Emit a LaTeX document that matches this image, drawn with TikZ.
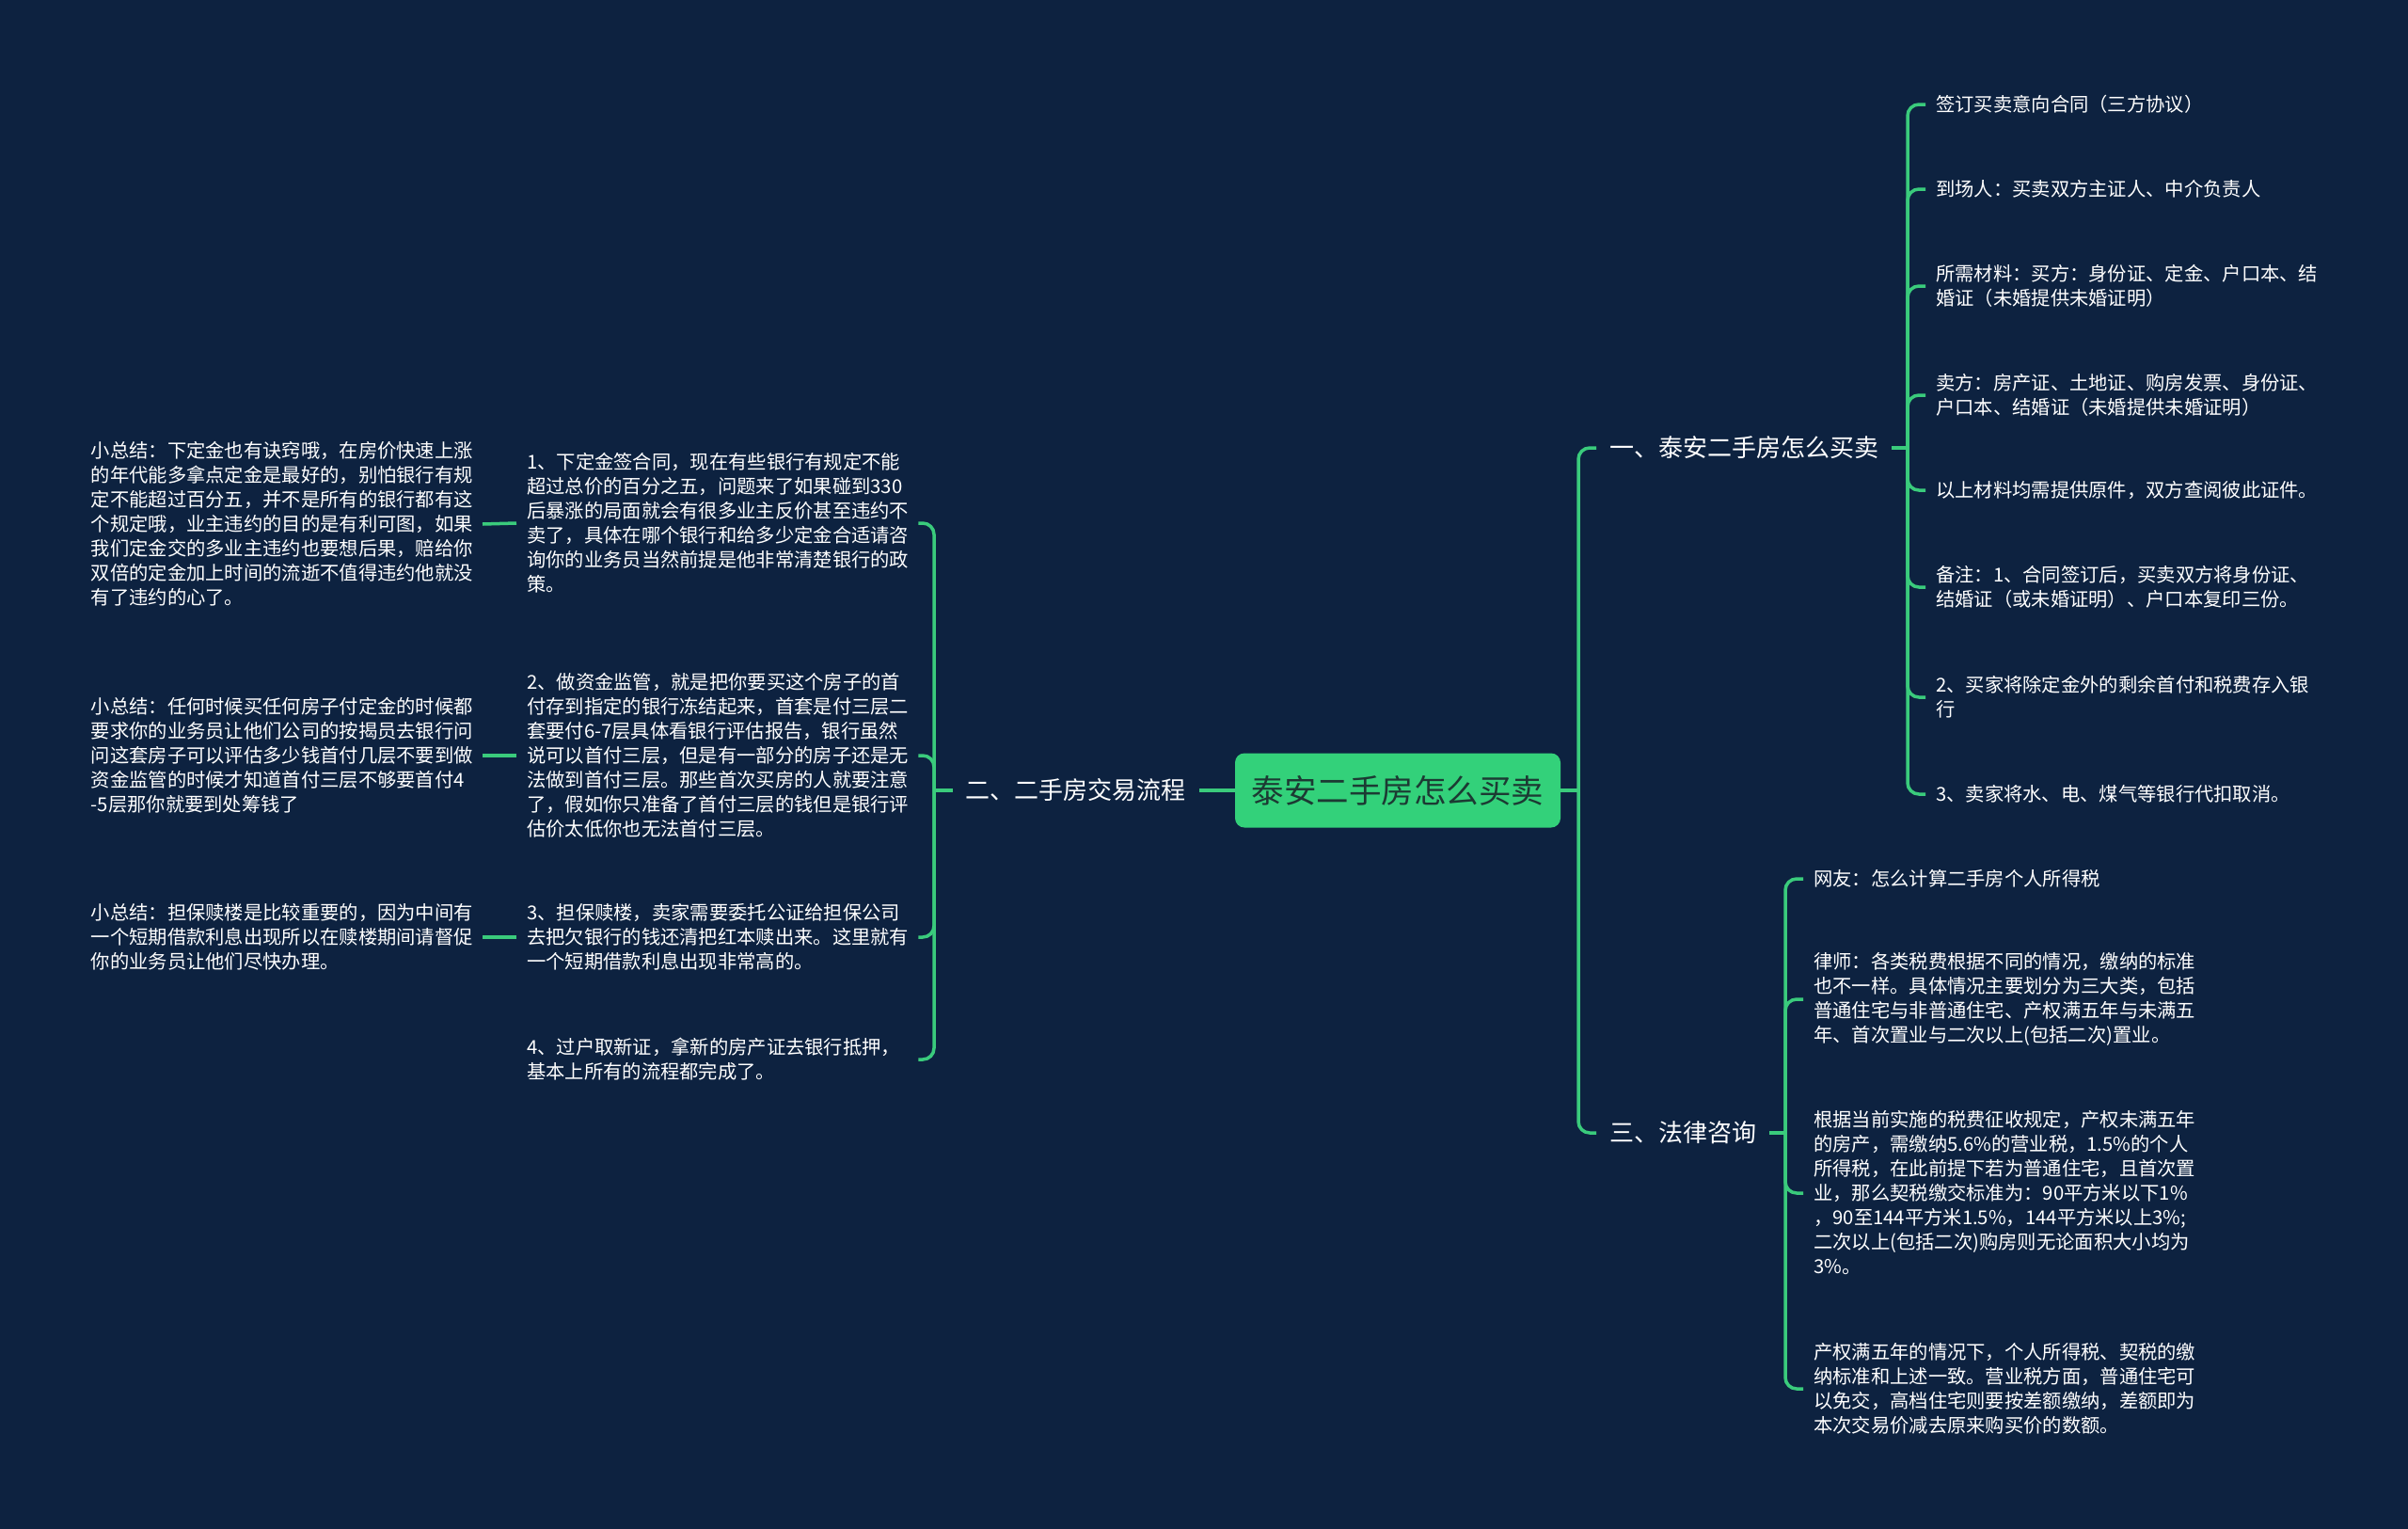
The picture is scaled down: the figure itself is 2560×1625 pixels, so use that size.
\documentclass[tikz,border=0pt]{standalone}
\usepackage{fontspec}
\setmainfont{Noto Sans CJK SC}
\definecolor{bg}{HTML}{0D2240}
\definecolor{ln}{HTML}{3ACB7C}
\definecolor{rootfill}{HTML}{33D17A}
\definecolor{roottext}{HTML}{1C3A33}
\begin{document}
\begin{tikzpicture}[x=1pt,y=-1pt,
  conn/.style={draw=ln,line width=3.5pt,rounded corners=12pt},
  leaf/.style={text=white,font=\fontsize{20.3}{26}\selectfont,text width=405pt,align=left,inner xsep=11pt,inner ysep=2pt},
  lvl/.style={text=white,font=\fontsize{26}{32}\selectfont,inner xsep=14pt,inner ysep=4pt},
  rootbox/.style={fill=rootfill,rounded corners=10pt,minimum width=346pt,minimum height=79pt,text=roottext,font=\fontsize{34.5}{40}\selectfont}]
\fill[bg] (0,0) rectangle (2560,1625);
\useasboundingbox (0,0) rectangle (2560,1625);

% root
\node[rootbox] (root) at (1486,840) {泰安二手房怎么买卖};

% level 1
\node[lvl,anchor=west] (b1) at (1697,476) {一、泰安二手房怎么买卖};
\node[lvl,anchor=east] (b2) at (1275,840) {二、二手房交易流程};
\node[lvl,anchor=west] (b3) at (1697,1204) {三、法律咨询};

% branch 1 children
\node[leaf,anchor=west] (a1) at (2047,111) {签订买卖意向合同（三方协议）};
\node[leaf,anchor=west] (a2) at (2047,201) {到场人：买卖双方主证人、中介负责人};
\node[leaf,anchor=west] (a3) at (2047,304) {所需材料：买方：身份证、定金、户口本、结\\婚证（未婚提供未婚证明）};
\node[leaf,anchor=west] (a4) at (2047,420) {卖方：房产证、土地证、购房发票、身份证、\\户口本、结婚证（未婚提供未婚证明）};
\node[leaf,anchor=west] (a5) at (2047,521) {以上材料均需提供原件，双方查阅彼此证件。};
\node[leaf,anchor=west] (a6) at (2047,624) {备注：1、合同签订后，买卖双方将身份证、\\结婚证（或未婚证明）、户口本复印三份。};
\node[leaf,anchor=west] (a7) at (2047,741) {2、买家将除定金外的剩余首付和税费存入银\\行};
\node[leaf,anchor=west] (a8) at (2047,844) {3、卖家将水、电、煤气等银行代扣取消。};

% branch 2 children
\node[leaf,anchor=west] (c1) at (549,556) {1、下定金签合同，现在有些银行有规定不能\\超过总价的百分之五，问题来了如果碰到330\\后暴涨的局面就会有很多业主反价甚至违约不\\卖了，具体在哪个银行和给多少定金合适请咨\\询你的业务员当然前提是他非常清楚银行的政\\策。};
\node[leaf,anchor=west] (c2) at (549,803) {2、做资金监管，就是把你要买这个房子的首\\付存到指定的银行冻结起来，首套是付三层二\\套要付6-7层具体看银行评估报告，银行虽然\\说可以首付三层，但是有一部分的房子还是无\\法做到首付三层。那些首次买房的人就要注意\\了，假如你只准备了首付三层的钱但是银行评\\估价太低你也无法首付三层。};
\node[leaf,anchor=west] (c3) at (549,996) {3、担保赎楼，卖家需要委托公证给担保公司\\去把欠银行的钱还清把红本赎出来。这里就有\\一个短期借款利息出现非常高的。};
\node[leaf,anchor=west] (c4) at (549,1126) {4、过户取新证，拿新的房产证去银行抵押，\\基本上所有的流程都完成了。};

% summaries
\node[leaf,anchor=east] (s1) at (513,557) {小总结：下定金也有诀窍哦，在房价快速上涨\\的年代能多拿点定金是最好的，别怕银行有规\\定不能超过百分五，并不是所有的银行都有这\\个规定哦，业主违约的目的是有利可图，如果\\我们定金交的多业主违约也要想后果，赔给你\\双倍的定金加上时间的流逝不值得违约他就没\\有了违约的心了。};
\node[leaf,anchor=east] (s2) at (513,803) {小总结：任何时候买任何房子付定金的时候都\\要求你的业务员让他们公司的按揭员去银行问\\问这套房子可以评估多少钱首付几层不要到做\\资金监管的时候才知道首付三层不够要首付4\\-5层那你就要到处筹钱了};
\node[leaf,anchor=east] (s3) at (513,996) {小总结：担保赎楼是比较重要的，因为中间有\\一个短期借款利息出现所以在赎楼期间请督促\\你的业务员让他们尽快办理。};

% branch 3 children
\node[leaf,anchor=west] (d1) at (1917,934) {网友：怎么计算二手房个人所得税};
\node[leaf,anchor=west] (d2) at (1917,1062) {律师：各类税费根据不同的情况，缴纳的标准\\也不一样。具体情况主要划分为三大类，包括\\普通住宅与非普通住宅、产权满五年与未满五\\年、首次置业与二次以上(包括二次)置业。};
\node[leaf,anchor=west] (d3) at (1917,1268) {根据当前实施的税费征收规定，产权未满五年\\的房产，需缴纳5.6\%的营业税，1.5\%的个人\\所得税，在此前提下若为普通住宅，且首次置\\业，那么契税缴交标准为：90平方米以下1\%\\，90至144平方米1.5\%，144平方米以上3\%;\\二次以上(包括二次)购房则无论面积大小均为\\3\%。};
\node[leaf,anchor=west] (d4) at (1917,1476) {产权满五年的情况下，个人所得税、契税的缴\\纳标准和上述一致。营业税方面，普通住宅可\\以免交，高档住宅则要按差额缴纳，差额即为\\本次交易价减去原来购买价的数额。};

% trunk coordinates
\coordinate (tr) at (1678,840);
\coordinate (tl) at (993,840);
\coordinate (t1) at (2028,476);
\coordinate (t3) at (1898,1204);

% connectors root
\draw[conn] (root.east) -- (tr);
\draw[conn] (tr) |- (b1.west);
\draw[conn] (tr) |- (b3.west);
\draw[conn] (root.west) -- (b2.east);
\draw[conn] (b2.west) -- (tl);
\foreach \c in {c1,c2,c3,c4} \draw[conn] (tl) |- (\c.east);
\draw[conn] (b1.east) -- (t1);
\foreach \c in {a1,a2,a3,a4,a5,a6,a7,a8} \draw[conn] (t1) |- (\c.west);
\draw[conn] (b3.east) -- (t3);
\foreach \c in {d1,d2,d3,d4} \draw[conn] (t3) |- (\c.west);
\draw[conn] (c1.west) -- (s1.east);
\draw[conn] (c2.west) -- (s2.east);
\draw[conn] (c3.west) -- (s3.east);
\end{tikzpicture}
\end{document}
